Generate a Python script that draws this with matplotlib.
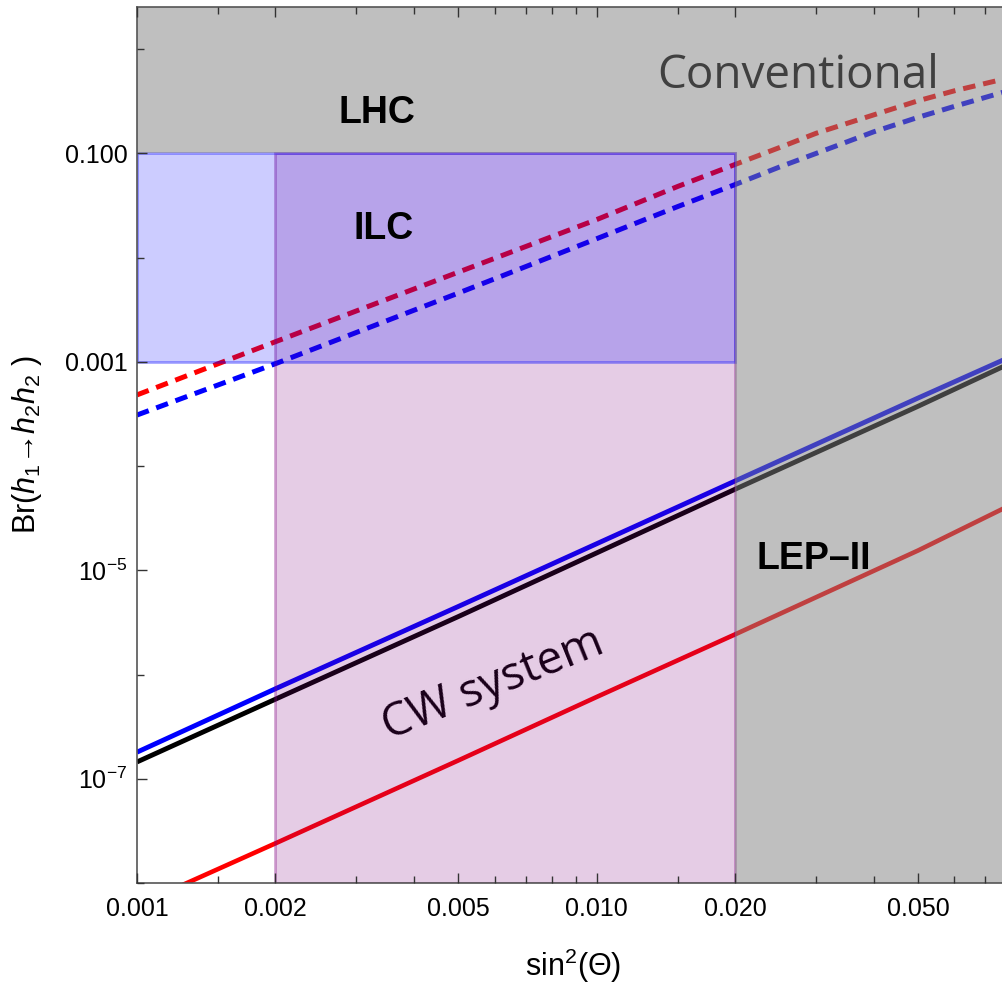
import matplotlib
matplotlib.use('Agg')
import matplotlib.pyplot as plt
from matplotlib.ticker import FixedLocator, FixedFormatter, NullFormatter

plt.rcParams['font.family'] = ['Liberation Sans', 'DejaVu Sans']
plt.rcParams['mathtext.fontset'] = 'custom'
plt.rcParams['mathtext.rm'] = 'Liberation Sans'
plt.rcParams['mathtext.it'] = 'Liberation Sans:italic'
plt.rcParams['mathtext.bf'] = 'Liberation Sans:bold'

# valores
sin2 = [0.001, 0.002, 0.005, 0.010, 0.020, 0.050, 0.0765]

# linhas cheias (sistema CW)
br_azul = [1.8e-7, 7.3e-7, 4.5e-6, 1.8e-5, 7.2e-5, 4.5e-4, 1.04e-3]
br_preto = [1.45e-7, 5.8e-7, 3.6e-6, 1.47e-5, 6.0e-5, 3.75e-4, 9.0e-4]
br_verm = [6.1e-9, 2.4e-8, 1.5e-7, 6.1e-7, 2.43e-6, 1.55e-5, 3.9e-5]

# linhas tracejadas (caso convencional)
sin2_conv = [0.001, 0.002, 0.005, 0.010, 0.015, 0.020, 0.025, 0.030,
             0.035, 0.040, 0.050, 0.060, 0.0765]
br_conv_verm = [4.82e-4, 1.56e-3, 7.26e-3, 0.0232, 0.0482, 0.0784, 0.114, 0.156,
                0.194, 0.234, 0.320, 0.399, 0.515]
br_conv_azul = [3.09e-4, 9.6e-4, 4.57e-3, 0.0152, 0.0309, 0.0503, 0.0742, 0.100,
                0.129, 0.161, 0.222, 0.283, 0.386]

# limites das regioes
xmin, xmax = 0.001, 0.0765
ymin, ymax = 1e-8, 2.54
lhc_lim = 0.1
ilc_lim = 0.001
lep_lim = 0.02
cw_min, cw_max = 0.002, 0.02

fig = plt.figure(figsize=(10.03, 9.86), dpi=100)
ax = fig.add_axes([137 / 1003, 1 - 883 / 986, 1 - 137 / 1003, (883 - 7) / 986])
ax.set_xscale('log')
ax.set_yscale('log')

# curvas
ax.plot(sin2_conv, br_conv_verm, color='red', lw=3.6, ls=(0, (2.5, 1.6)), zorder=1)
ax.plot(sin2_conv, br_conv_azul, color='blue', lw=3.6, ls=(0, (2.5, 1.6)), zorder=1)
ax.plot(sin2, br_azul, color='blue', lw=3.5, zorder=1, solid_capstyle='butt')
ax.plot(sin2, br_preto, color='black', lw=3.5, zorder=1, solid_capstyle='butt')
ax.plot(sin2, br_verm, color='red', lw=3.3, zorder=1, solid_capstyle='butt')

# textos por baixo das regioes
ax.text(0.0274, 0.42, 'Conventional', family='Open Sans', fontsize=33,
        ha='center', va='baseline', color='black', zorder=1)
ax.text(0.00594, 8.0e-7, 'CW system', family='Open Sans', fontsize=33,
        ha='center', va='center', rotation=22, rotation_mode='anchor',
        color='black', zorder=1)

# regiao CW
ax.fill([cw_min, cw_max, cw_max, cw_min], [ymin, ymin, lhc_lim, lhc_lim],
        facecolor=(0.5, 0, 0.5, 0.2), edgecolor=(0.5, 0, 0.5, 0.35), lw=2, zorder=1.2)
# regiao ILC
ax.fill([xmin, cw_max, cw_max, xmin], [ilc_lim, ilc_lim, lhc_lim, lhc_lim],
        facecolor=(0, 0, 1, 0.2), edgecolor=(0, 0, 1, 0.35), lw=2, zorder=1.3)
# regiao excluida (LHC + LEP-II)
ax.fill([lep_lim, xmax, xmax, xmin, xmin, lep_lim],
        [ymin, ymin, ymax, ymax, lhc_lim, lhc_lim],
        facecolor=(0.5, 0.5, 0.5, 0.5), edgecolor='none', zorder=1.4)

ax.text(0.00332, 0.194, 'LHC', fontsize=27, fontweight='bold', ha='center', va='baseline', zorder=1.6)
ax.text(0.00344, 0.0152, 'ILC', fontsize=27, fontweight='bold', ha='center', va='baseline', zorder=1.6)
ax.text(0.0296, 1.02e-5, 'LEP\u2013II', fontsize=27, fontweight='bold', ha='center', va='baseline', zorder=1.6)

ax.set_xlim(xmin, xmax)
ax.set_ylim(ymin, ymax)

# ticks
ax.xaxis.set_major_locator(FixedLocator([0.001, 0.002, 0.005, 0.01, 0.02, 0.05]))
ax.xaxis.set_major_formatter(FixedFormatter(['0.001', '0.002', '0.005', '0.010', '0.020', '0.050']))
ax.xaxis.set_minor_locator(FixedLocator([0.0015, 0.003, 0.004, 0.006, 0.007, 0.008, 0.009,
                                         0.015, 0.03, 0.04, 0.06, 0.07]))
ax.xaxis.set_minor_formatter(NullFormatter())
ax.yaxis.set_major_locator(FixedLocator([1e-7, 1e-5, 1e-3, 1e-1]))
ax.yaxis.set_major_formatter(FixedFormatter([r'$10^{-7}$', r'$10^{-5}$', '0.001', '0.100']))
ax.yaxis.set_minor_locator(FixedLocator([1e-8, 1e-6, 1e-4, 1e-2, 1]))
ax.yaxis.set_minor_formatter(NullFormatter())

ax.set_axisbelow(False)
ax.tick_params(which='both', direction='in', top=True, right=False, color='#333333', width=1)
ax.tick_params(which='major', length=7, labelsize=18)
ax.tick_params(axis='x', which='major', pad=10)
ax.tick_params(axis='y', which='major', pad=7)
ax.tick_params(which='minor', length=5)
for s in ['left', 'bottom', 'top']:
    ax.spines[s].set_color('#555555')
    ax.spines[s].set_linewidth(1.2)
ax.spines['right'].set_visible(False)

fig.text(27 / 1003, 1 - 444 / 986, 'Br($h_1$\u2192$h_2h_2$ )',
         fontsize=22, rotation=90, ha='center', va='center')
fig.text(573 / 1003, 1 - 966 / 986, 'sin$^2$(\u0398)', fontsize=22, ha='center', va='center')

plt.savefig('out.png', dpi=100)
